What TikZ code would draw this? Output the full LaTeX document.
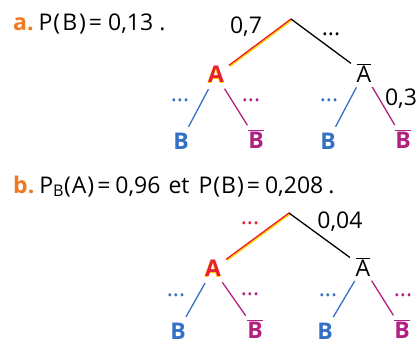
\documentclass[tikz,border=0pt]{standalone}
\usepackage{fontspec}
\setmainfont{Open Sans}
\usepackage{xcolor}
\usepackage{tikz}
\usetikzlibrary{positioning}
\definecolor{bleu}{RGB}{52,112,196}
\definecolor{rose}{RGB}{178,32,128}
\definecolor{rouge}{RGB}{232,30,50}
\definecolor{jaune}{RGB}{255,215,0}
\definecolor{orangeq}{RGB}{242,120,30}
\newcommand{\barre}[1]{$\overline{\mbox{#1}}$}
\newcommand{\lueur}[2]{\makebox[0pt][l]{\kern-0.8pt\raisebox{-0.8pt}{\color{jaune}#2}}{\color{#1}#2}}
\tikzstyle{evt} = [circle, minimum size=32pt, inner sep=0pt, font=\fontsize{23}{27}\selectfont]
\tikzstyle{proba} = [inner sep=0pt, font=\fontsize{23}{27}\selectfont]
\tikzstyle{titre} = [anchor=base west, inner sep=0pt, font=\fontsize{23}{27}\selectfont]
\tikzstyle{branche} = [line width=1.3pt]
\tikzstyle{surligne} = [jaune, line width=2pt, transform canvas={xshift=0.8pt, yshift=-0.8pt}]

\begin{document}
\begin{tikzpicture}[x=1pt, y=-1pt]
    \useasboundingbox (0,0) rectangle (416,343);
    % Question a
    
\node[titre] (qa) at (13,30) {\textcolor{orangeq}{\textbf{a.}}\hspace{5pt}P\hspace{1pt}(\hspace{2pt}B\hspace{2pt})\hspace{3pt}=\hspace{6pt}0,13\hspace{6pt}.};
    
\coordinate (ra) at (291,19);
    
\node[evt] (aA) at (216,75) {\lueur{rouge}{\textbf{A}}};
    
\node[evt] (aAb) at (364,73) {\barre{A}};
    
\node[evt, text=bleu] (aB1) at (181,141) {\textbf{B}};
    
\node[evt, text=rose] (aBb1) at (256,139) {\textbf{\barre{B}}};
    
\node[evt, text=bleu] (aB2) at (328,141) {\textbf{B}};
    
\node[evt, text=rose] (aBb2) at (403,139) {\textbf{\barre{B}}};
    
    % Branches a
    \draw[surligne] (ra) -- (aA);
    \draw[branche, rouge] (ra) -- (aA);
    \draw[branche] (ra) -- (aAb);
    \draw[branche, bleu] (aA) -- (aB1);
    \draw[branche, rose] (aA) -- (aBb1);
    \draw[branche, bleu] (aAb) -- (aB2);
    \draw[branche, rose] (aAb) -- (aBb2);
    
\node[proba] (pa1) at (246,27) {0,7};
    
\node[proba] (pa2) at (331,34) {...};
    
\node[proba, text=bleu] (pa3) at (180,100) {...};
    
\node[proba, text=rose] (pa4) at (251,100) {...};
    
\node[proba, text=bleu] (pa5) at (329,100) {...};
    
\node[proba] (pa6) at (401,99) {0,3};
    
    % Question b
    
\node[titre] (qb) at (13,193) {\textcolor{orangeq}{\textbf{b.}}\hspace{5pt}P\textsubscript{B}(\hspace{1pt}A\hspace{1pt})\hspace{3pt}=\hspace{5pt}0,96\hspace{8pt}et\hspace{9pt}P\hspace{1pt}(\hspace{1pt}B\hspace{1pt})\hspace{3pt}=\hspace{5pt}0,208\hspace{5pt}.};
    
\coordinate (rb) at (289,213);
    
\node[evt] (bA) at (213,269) {\lueur{rouge}{\textbf{A}}};
    
\node[evt] (bAb) at (363,267) {\barre{A}};
    
\node[evt, text=bleu] (bB1) at (178,331) {\textbf{B}};
    
\node[evt, text=rose] (bBb1) at (255,329) {\textbf{\barre{B}}};
    
\node[evt, text=bleu] (bB2) at (325,331) {\textbf{B}};
    
\node[evt, text=rose] (bBb2) at (402,329) {\textbf{\barre{B}}};
    
    % Branches b
    \draw[surligne] (rb) -- (bA);
    \draw[branche, rouge] (rb) -- (bA);
    \draw[branche] (rb) -- (bAb);
    \draw[branche, bleu] (bA) -- (bB1);
    \draw[branche, rose] (bA) -- (bBb1);
    \draw[branche, bleu] (bAb) -- (bB2);
    \draw[branche, rose] (bAb) -- (bBb2);
    
\node[proba, text=rouge] (pb1) at (250,223) {...};
    
\node[proba] (pb2) at (340,222) {0,04};
    
\node[proba, text=bleu] (pb3) at (176,295) {...};
    
\node[proba, text=rose] (pb4) at (250,294) {...};
    
\node[proba, text=bleu] (pb5) at (328,295) {...};
    
\node[proba, text=rose] (pb6) at (403,295) {...};
\end{tikzpicture}
\end{document}
